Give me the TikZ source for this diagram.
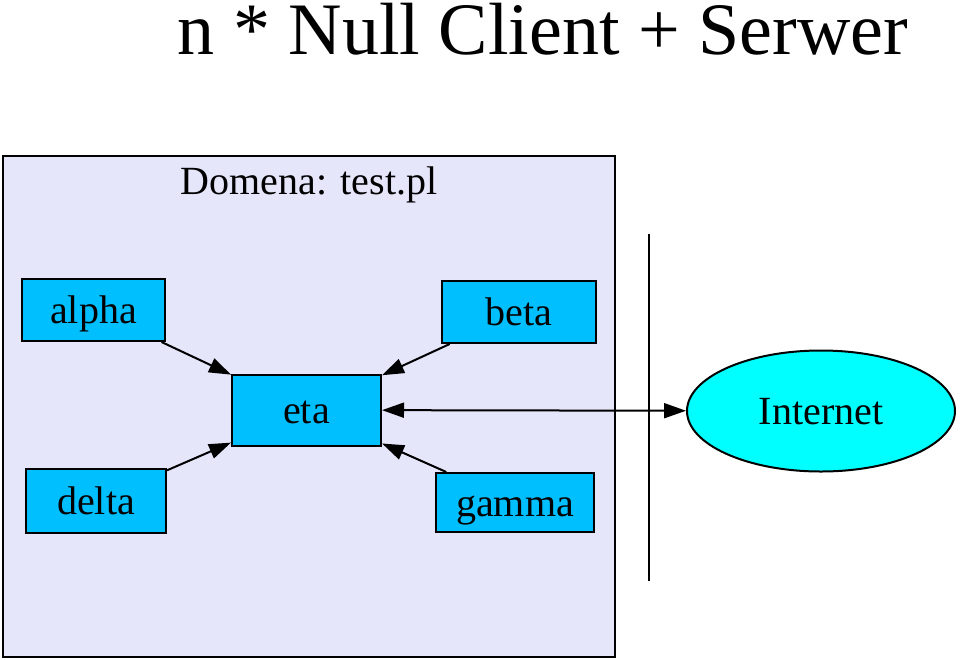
\documentclass[tikz,border=0pt]{standalone}
\usepackage{fontspec}
\setmainfont{Liberation Serif}
\usetikzlibrary{arrows.meta,shapes.geometric}
\definecolor{lav}{HTML}{E6E6FA}
\definecolor{nodeblue}{HTML}{00BFFF}
\definecolor{inetcyan}{HTML}{00FFFF}
\begin{document}
\begin{tikzpicture}[x=1pt,y=-1pt,
  box/.style={draw=black,line width=2pt,fill=nodeblue,rectangle,inner sep=0pt,
    font=\fontsize{40}{48}\selectfont,text height=27pt,text depth=0pt},
  edge/.style={line width=2pt,-{Triangle[length=22pt,width=15pt]}},
  biedge/.style={line width=2pt,{Triangle[length=22pt,width=15pt]}-{Triangle[length=22pt,width=15pt]}}]
\useasboundingbox[fill=white] (0,0) rectangle (960,659);
\node[anchor=base,font=\fontsize{74}{80}\selectfont,inner sep=0pt] (title) at (543,54) {n * Null Client + Serwer};
\draw[line width=2pt,fill=lav] (3,156) rectangle (615,657);
\node[anchor=base,font=\fontsize{40}{48}\selectfont,inner sep=0pt] (dom) at (309,194) {Domena: test.pl};
\node[box,minimum width=143pt,minimum height=62pt] (alpha) at (93.5,310) {alpha};
\node[box,minimum width=154pt,minimum height=62pt] (beta) at (519,312) {beta};
\node[box,minimum width=149pt,minimum height=71pt] (eta) at (306.5,410) {eta};
\node[box,minimum width=140pt,minimum height=64pt] (delta) at (96,501) {delta};
\node[box,minimum width=158pt,minimum height=59pt] (gamma) at (515,502.5) {gamma};
\node[draw=black,line width=2pt,fill=inetcyan,ellipse,inner sep=0pt,minimum width=268pt,minimum height=121pt,
  font=\fontsize{40}{48}\selectfont,text height=27pt,text depth=0pt] (inet) at (821,411) {Internet};
\coordinate (vt) at (649,234);
\coordinate (vb) at (649,581);
\draw[line width=2pt] (vt) -- (vb);
\draw[edge] (alpha) -- (eta);
\draw[edge] (beta) -- (eta);
\draw[edge] (delta) -- (eta);
\draw[edge] (gamma) -- (eta);
\draw[biedge] (eta) -- (inet);
\end{tikzpicture}
\end{document}
